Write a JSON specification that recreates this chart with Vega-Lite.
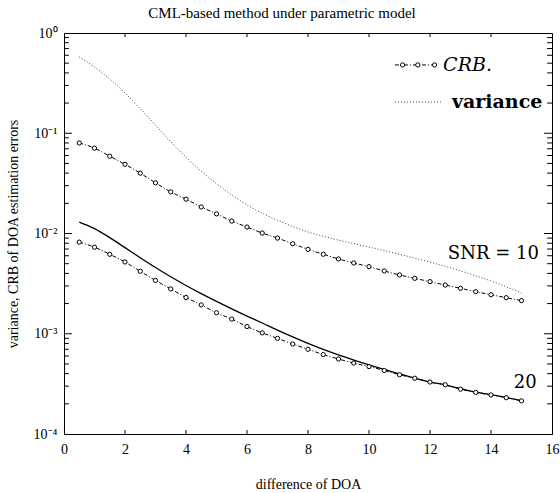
{
  "$schema": "https://vega.github.io/schema/vega-lite/v6.json",
  "width": 488,
  "height": 401,
  "autosize": {"type": "none"},
  "padding": {"left": 64, "top": 33, "right": 8, "bottom": 59},
  "background": "white",
  "title": {"text": "CML-based method under parametric model", "font": "Liberation Serif", "fontSize": 15, "fontWeight": "normal", "color": "black", "offset": 5, "dx": -26},
  "config": {
    "view": {"stroke": "black", "strokeWidth": 1},
    "axis": {"domainColor": "black", "labelColor": "black", "titleColor": "black", "labelFont": "Liberation Serif", "titleFont": "Liberation Serif", "labelFontSize": 14, "titleFontSize": 14, "titleFontWeight": "normal", "grid": false, "ticks": false, "tickSize": 0}
  },
  "resolve": {"axis": {"x": "independent", "y": "independent"}},
  "datasets": {
    "curves": [
      {"x":0.5,"s":"var10","v":0.5768},{"x":1.0,"s":"var10","v":0.4581},{"x":1.5,"s":"var10","v":0.3475},{"x":2.0,"s":"var10","v":0.2518},{"x":2.5,"s":"var10","v":0.1762},{"x":3.0,"s":"var10","v":0.1205},{"x":3.5,"s":"var10","v":0.0824},{"x":4.0,"s":"var10","v":0.0577},{"x":4.5,"s":"var10","v":0.0418},{"x":5.0,"s":"var10","v":0.0313},{"x":5.5,"s":"var10","v":0.0243},{"x":6.0,"s":"var10","v":0.0193},{"x":6.5,"s":"var10","v":0.01596},{"x":7.0,"s":"var10","v":0.01355},{"x":7.5,"s":"var10","v":0.01175},{"x":8.0,"s":"var10","v":0.01035},{"x":8.5,"s":"var10","v":0.0094},{"x":9.0,"s":"var10","v":0.00859},{"x":9.5,"s":"var10","v":0.00793},{"x":10.0,"s":"var10","v":0.00731},{"x":10.5,"s":"var10","v":0.00676},{"x":11.0,"s":"var10","v":0.00621},{"x":11.5,"s":"var10","v":0.00568},{"x":12.0,"s":"var10","v":0.00518},{"x":12.5,"s":"var10","v":0.0047},{"x":13.0,"s":"var10","v":0.00424},{"x":13.5,"s":"var10","v":0.00378},{"x":14.0,"s":"var10","v":0.00336},{"x":14.5,"s":"var10","v":0.00294},{"x":15.0,"s":"var10","v":0.00255},
      {"x":0.5,"s":"crb10","v":0.080},{"x":1.0,"s":"crb10","v":0.071},{"x":1.5,"s":"crb10","v":0.059},{"x":2.0,"s":"crb10","v":0.049},{"x":2.5,"s":"crb10","v":0.040},{"x":3.0,"s":"crb10","v":0.032},{"x":3.5,"s":"crb10","v":0.026},{"x":4.0,"s":"crb10","v":0.022},{"x":4.5,"s":"crb10","v":0.0184},{"x":5.0,"s":"crb10","v":0.0157},{"x":5.5,"s":"crb10","v":0.0133},{"x":6.0,"s":"crb10","v":0.0116},{"x":6.5,"s":"crb10","v":0.0101},{"x":7.0,"s":"crb10","v":0.0090},{"x":7.5,"s":"crb10","v":0.0079},{"x":8.0,"s":"crb10","v":0.00695},{"x":8.5,"s":"crb10","v":0.00621},{"x":9.0,"s":"crb10","v":0.00557},{"x":9.5,"s":"crb10","v":0.00508},{"x":10.0,"s":"crb10","v":0.00467},{"x":10.5,"s":"crb10","v":0.00423},{"x":11.0,"s":"crb10","v":0.00386},{"x":11.5,"s":"crb10","v":0.00357},{"x":12.0,"s":"crb10","v":0.00331},{"x":12.5,"s":"crb10","v":0.00306},{"x":13.0,"s":"crb10","v":0.00284},{"x":13.5,"s":"crb10","v":0.00263},{"x":14.0,"s":"crb10","v":0.00245},{"x":14.5,"s":"crb10","v":0.00229},{"x":15.0,"s":"crb10","v":0.00214},
      {"x":0.5,"s":"var20","v":0.0130},{"x":1.0,"s":"var20","v":0.01119},{"x":1.5,"s":"var20","v":0.0091},{"x":2.0,"s":"var20","v":0.00723},{"x":2.5,"s":"var20","v":0.00574},{"x":3.0,"s":"var20","v":0.00458},{"x":3.5,"s":"var20","v":0.0037},{"x":4.0,"s":"var20","v":0.00303},{"x":4.5,"s":"var20","v":0.00251},{"x":5.0,"s":"var20","v":0.0021},{"x":5.5,"s":"var20","v":0.00177},{"x":6.0,"s":"var20","v":0.0015},{"x":6.5,"s":"var20","v":0.00128},{"x":7.0,"s":"var20","v":0.001086},{"x":7.5,"s":"var20","v":0.000929},{"x":8.0,"s":"var20","v":0.0008},{"x":8.5,"s":"var20","v":0.000697},{"x":9.0,"s":"var20","v":0.000614},{"x":9.5,"s":"var20","v":0.000547},{"x":10.0,"s":"var20","v":0.00049},{"x":10.5,"s":"var20","v":0.000441},{"x":11.0,"s":"var20","v":0.000397},{"x":11.5,"s":"var20","v":0.000361},{"x":12.0,"s":"var20","v":0.00033},{"x":12.5,"s":"var20","v":0.000309},{"x":13.0,"s":"var20","v":0.000283},{"x":13.5,"s":"var20","v":0.000261},{"x":14.0,"s":"var20","v":0.000247},{"x":14.5,"s":"var20","v":0.000231},{"x":15.0,"s":"var20","v":0.000215},
      {"x":0.5,"s":"crb20","v":0.0082},{"x":1.0,"s":"crb20","v":0.0073},{"x":1.5,"s":"crb20","v":0.0062},{"x":2.0,"s":"crb20","v":0.0052},{"x":2.5,"s":"crb20","v":0.0042},{"x":3.0,"s":"crb20","v":0.0034},{"x":3.5,"s":"crb20","v":0.0028},{"x":4.0,"s":"crb20","v":0.0023},{"x":4.5,"s":"crb20","v":0.00194},{"x":5.0,"s":"crb20","v":0.00162},{"x":5.5,"s":"crb20","v":0.0014},{"x":6.0,"s":"crb20","v":0.00118},{"x":6.5,"s":"crb20","v":0.00102},{"x":7.0,"s":"crb20","v":0.0009},{"x":7.5,"s":"crb20","v":0.00079},{"x":8.0,"s":"crb20","v":0.0007},{"x":8.5,"s":"crb20","v":0.00062},{"x":9.0,"s":"crb20","v":0.00056},{"x":9.5,"s":"crb20","v":0.00051},{"x":10.0,"s":"crb20","v":0.00047},{"x":10.5,"s":"crb20","v":0.00043},{"x":11.0,"s":"crb20","v":0.00039},{"x":11.5,"s":"crb20","v":0.00036},{"x":12.0,"s":"crb20","v":0.00033},{"x":12.5,"s":"crb20","v":0.00031},{"x":13.0,"s":"crb20","v":0.00028},{"x":13.5,"s":"crb20","v":0.00026},{"x":14.0,"s":"crb20","v":0.000245},{"x":14.5,"s":"crb20","v":0.00023},{"x":15.0,"s":"crb20","v":0.000214}
    ],
    "xticks": [{"x":2},{"x":4},{"x":6},{"x":8},{"x":10},{"x":12},{"x":14}],
    "ymajor": [{"v":0.001},{"v":0.01},{"v":0.1}],
    "yminor": [{"v":0.0002},{"v":0.0003},{"v":0.0004},{"v":0.0005},{"v":0.0006},{"v":0.0007},{"v":0.0008},{"v":0.0009},{"v":0.002},{"v":0.003},{"v":0.004},{"v":0.005},{"v":0.006},{"v":0.007},{"v":0.008},{"v":0.009},{"v":0.02},{"v":0.03},{"v":0.04},{"v":0.05},{"v":0.06},{"v":0.07},{"v":0.08},{"v":0.09},{"v":0.2},{"v":0.3},{"v":0.4},{"v":0.5},{"v":0.6},{"v":0.7},{"v":0.8},{"v":0.9}],
    "legCrbLine": [{"x":10.85,"v":0.48},{"x":12.2,"v":0.48}],
    "legCrbPts": [{"x":11.1,"v":0.48},{"x":11.6,"v":0.48},{"x":12.15,"v":0.48}],
    "legVarLine": [{"x":10.85,"v":0.205},{"x":12.4,"v":0.205}],
    "legCrbText": [{"x":12.43,"v":0.48,"t":"CRB."}],
    "legVarText": [{"x":12.72,"v":0.205,"t":"variance"}],
    "snrText": [{"x":15.57,"v":0.00625,"t":"SNR = 10"},{"x":15.5,"v":0.000323,"t":"20"}]
  },
  "layer": [
    {
      "data": {"name": "curves"},
      "transform": [{"filter": "datum.s == 'var10'"}],
      "mark": {"type": "line", "stroke": "#444444", "strokeWidth": 1, "strokeDash": [1, 2], "interpolate": "monotone"},
      "encoding": {
        "x": {"field": "x", "type": "quantitative", "scale": {"domain": [0, 16], "nice": false, "zero": false},
          "axis": {"orient": "bottom", "title": "difference of DOA", "values": [0,2,4,6,8,10,12,14,16], "labelPadding": 8, "titlePadding": 21, "labelFlush": false}},
        "y": {"field": "v", "type": "quantitative", "scale": {"type": "log", "domain": [0.0001, 1], "nice": false},
          "axis": {"orient": "left", "title": "variance, CRB of DOA estimation errors", "titlePadding": 13,
            "values": [0.0001, 0.001, 0.01, 0.1, 1],
            "labelExpr": "datum.value == 1 ? '10⁰' : datum.value == 0.1 ? '10⁻¹' : datum.value == 0.01 ? '10⁻²' : datum.value == 0.001 ? '10⁻³' : '10⁻⁴'",
            "labelOverlap": false, "labelFlush": false, "labelPadding": 7}}
      }
    },
    {
      "data": {"name": "curves"},
      "transform": [{"filter": "datum.s == 'var20'"}],
      "mark": {"type": "line", "stroke": "black", "strokeWidth": 1.3, "interpolate": "monotone"},
      "encoding": {
        "x": {"field": "x", "type": "quantitative", "axis": null},
        "y": {"field": "v", "type": "quantitative", "axis": null}
      }
    },
    {
      "data": {"name": "curves"},
      "transform": [{"filter": "datum.s == 'crb10' || datum.s == 'crb20'"}],
      "mark": {"type": "line", "stroke": "black", "strokeWidth": 1, "strokeDash": [4, 2, 1, 2], "interpolate": "monotone"},
      "encoding": {
        "x": {"field": "x", "type": "quantitative", "axis": null},
        "y": {"field": "v", "type": "quantitative", "axis": null},
        "detail": {"field": "s"}
      }
    },
    {
      "data": {"name": "curves"},
      "transform": [{"filter": "datum.s == 'crb10' || datum.s == 'crb20'"}],
      "mark": {"type": "point", "shape": "circle", "filled": true, "fill": "white", "stroke": "black", "strokeWidth": 1, "size": 18, "opacity": 1},
      "encoding": {
        "x": {"field": "x", "type": "quantitative", "axis": null},
        "y": {"field": "v", "type": "quantitative", "axis": null}
      }
    },
    {
      "data": {"name": "xticks"},
      "mark": {"type": "rule", "stroke": "black", "strokeWidth": 1},
      "encoding": {
        "x": {"field": "x", "type": "quantitative", "axis": null},
        "y": {"datum": 0.0001, "type": "quantitative", "axis": null},
        "y2": {"datum": 0.0001096}
      }
    },
    {
      "data": {"name": "xticks"},
      "mark": {"type": "rule", "stroke": "black", "strokeWidth": 1},
      "encoding": {
        "x": {"field": "x", "type": "quantitative", "axis": null},
        "y": {"datum": 1, "type": "quantitative", "axis": null},
        "y2": {"datum": 0.912}
      }
    },
    {
      "data": {"name": "ymajor"},
      "mark": {"type": "rule", "stroke": "black", "strokeWidth": 1},
      "encoding": {
        "y": {"field": "v", "type": "quantitative", "axis": null},
        "x": {"datum": 0, "type": "quantitative", "axis": null},
        "x2": {"datum": 0.26}
      }
    },
    {
      "data": {"name": "ymajor"},
      "mark": {"type": "rule", "stroke": "black", "strokeWidth": 1},
      "encoding": {
        "y": {"field": "v", "type": "quantitative", "axis": null},
        "x": {"datum": 16, "type": "quantitative", "axis": null},
        "x2": {"datum": 15.74}
      }
    },
    {
      "data": {"name": "yminor"},
      "mark": {"type": "rule", "stroke": "black", "strokeWidth": 1},
      "encoding": {
        "y": {"field": "v", "type": "quantitative", "axis": null},
        "x": {"datum": 0, "type": "quantitative", "axis": null},
        "x2": {"datum": 0.16}
      }
    },
    {
      "data": {"name": "yminor"},
      "mark": {"type": "rule", "stroke": "black", "strokeWidth": 1},
      "encoding": {
        "y": {"field": "v", "type": "quantitative", "axis": null},
        "x": {"datum": 16, "type": "quantitative", "axis": null},
        "x2": {"datum": 15.84}
      }
    },
    {
      "data": {"name": "legCrbLine"},
      "mark": {"type": "line", "stroke": "black", "strokeWidth": 1, "strokeDash": [4, 2, 1, 2]},
      "encoding": {
        "x": {"field": "x", "type": "quantitative", "axis": null},
        "y": {"field": "v", "type": "quantitative", "axis": null}
      }
    },
    {
      "data": {"name": "legCrbPts"},
      "mark": {"type": "point", "shape": "circle", "filled": true, "fill": "white", "stroke": "black", "strokeWidth": 1, "size": 18, "opacity": 1},
      "encoding": {
        "x": {"field": "x", "type": "quantitative", "axis": null},
        "y": {"field": "v", "type": "quantitative", "axis": null}
      }
    },
    {
      "data": {"name": "legVarLine"},
      "mark": {"type": "line", "stroke": "#444444", "strokeWidth": 1, "strokeDash": [1, 2]},
      "encoding": {
        "x": {"field": "x", "type": "quantitative", "axis": null},
        "y": {"field": "v", "type": "quantitative", "axis": null}
      }
    },
    {
      "data": {"name": "legCrbText"},
      "mark": {"type": "text", "font": "DejaVu Serif", "fontStyle": "italic", "fontSize": 19, "align": "left", "baseline": "middle", "color": "black"},
      "encoding": {
        "x": {"field": "x", "type": "quantitative", "axis": null},
        "y": {"field": "v", "type": "quantitative", "axis": null},
        "text": {"field": "t"}
      }
    },
    {
      "data": {"name": "legVarText"},
      "mark": {"type": "text", "font": "DejaVu Serif", "fontWeight": "bold", "fontSize": 19, "align": "left", "baseline": "middle", "color": "black"},
      "encoding": {
        "x": {"field": "x", "type": "quantitative", "axis": null},
        "y": {"field": "v", "type": "quantitative", "axis": null},
        "text": {"field": "t"}
      }
    },
    {
      "data": {"name": "snrText"},
      "mark": {"type": "text", "font": "DejaVu Serif", "fontSize": 18, "align": "right", "baseline": "middle", "color": "black"},
      "encoding": {
        "x": {"field": "x", "type": "quantitative", "axis": null},
        "y": {"field": "v", "type": "quantitative", "axis": null},
        "text": {"field": "t"}
      }
    }
  ]
}
